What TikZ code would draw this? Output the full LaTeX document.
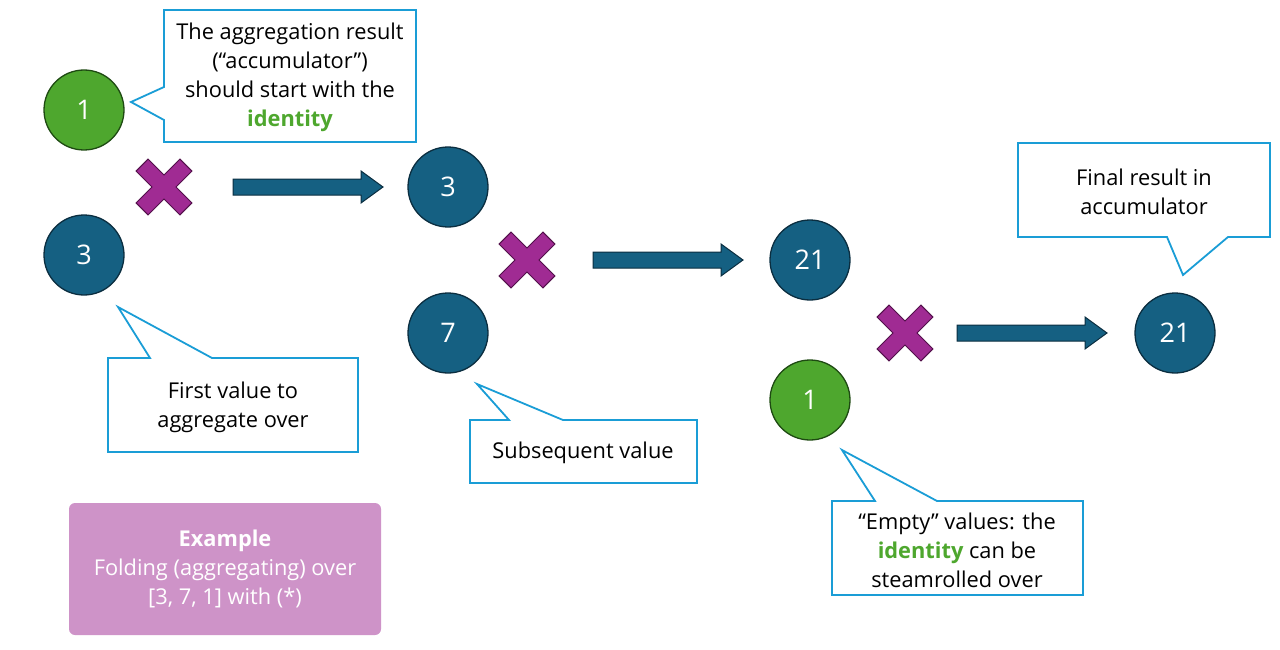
\documentclass[tikz,border=0pt]{standalone}
\usepackage{fontspec}
\setmainfont{Open Sans}
\definecolor{cblue}{HTML}{156082}
\definecolor{cbluedk}{HTML}{0B2E40}
\definecolor{cgreen}{HTML}{4EA72E}
\definecolor{cgreendk}{HTML}{1E4A12}
\definecolor{cpurple}{HTML}{A02B93}
\definecolor{cpurpledk}{HTML}{52104A}
\definecolor{ccall}{HTML}{1A9DD6}
\definecolor{cexample}{HTML}{CE93C8}
\begin{document}
\begin{tikzpicture}[x=1pt,y=-1pt,
  val/.style={circle,minimum size=80pt,inner sep=0pt,line width=1.3pt,text=white,font=\fontsize{27}{30}\selectfont},
  bluev/.style={val,fill=cblue,draw=cbluedk},
  greenv/.style={val,fill=cgreen,draw=cgreendk},
  calltext/.style={align=center,font=\fontsize{21.8}{29}\selectfont,text=black,inner sep=0pt},
  callout/.style={draw=ccall,line width=1.8pt,fill=white,line join=miter},
  xmark/.pic={\filldraw[fill=cpurple,draw=cpurpledk,line width=1pt,rotate=45]
     (8.5,31)--(8.5,8.5)--(31,8.5)--(31,-8.5)--(8.5,-8.5)--(8.5,-31)--(-8.5,-31)--(-8.5,-8.5)--(-31,-8.5)--(-31,8.5)--(-8.5,8.5)--(-8.5,31)--cycle;},
  blockarrow/.pic={\filldraw[fill=cblue,draw=cbluedk,line width=1pt]
     (0,-8)--(128,-8)--(128,-16)--(150,0)--(128,16)--(128,8)--(0,8)--cycle;}
]
\useasboundingbox (0,0) rectangle (1280,650);

% value circles
\node[greenv] (g1) at (84,110) {1};
\node[bluev]  (b3) at (84,255) {3};
\node[bluev]  (c3) at (448,187) {3};
\node[bluev]  (c7) at (448,333) {7};
\node[bluev]  (d21) at (810,260) {21};
\node[greenv] (d1) at (810,400) {1};
\node[bluev]  (e21) at (1175,333) {21};

% multiply marks
\pic at (164,187) {xmark};
\pic at (527,260) {xmark};
\pic at (905,333) {xmark};

% block arrows
\pic at (233,187) {blockarrow};
\pic at (593,260) {blockarrow};
\pic at (957,333) {blockarrow};

% callout 1
\draw[callout] (164,10)--(416,10)--(416,142)--(164,142)--(164,120)--(131,102)--(164,87)--cycle;
\node[calltext] (t1) at (290,77) {The aggregation result\\(“accumulator”)\\should start with the\\\textcolor{cgreen}{\bfseries identity}};

% callout 2
\draw[callout] (108,358)--(150,358)--(118,307)--(212,358)--(358,358)--(358,452)--(108,452)--cycle;
\node[calltext] (t2) at (233,407) {First value to\\aggregate over};

% callout 3
\draw[callout] (470,420)--(509,420)--(477,384)--(563,420)--(697,420)--(697,483)--(470,483)--cycle;
\node[calltext] (t3) at (583,453) {Subsequent value};

% callout 4
\draw[callout] (832,501)--(875,501)--(842,450)--(937,501)--(1083,501)--(1083,595)--(832,595)--cycle;
\node[calltext] (t4) at (957,550) {“Empty” values: the\\\textcolor{cgreen}{\bfseries identity} can be\\steamrolled over};

% callout 5
\draw[callout] (1018,143)--(1270,143)--(1270,237)--(1228,237)--(1183,275)--(1167,237)--(1018,237)--cycle;
\node[calltext] (t5) at (1144,192) {Final result in\\accumulator};

% example box
\node[fill=cexample,rounded corners=6pt,minimum width=312pt,minimum height=132pt,inner sep=0pt,
      text=white,align=center,font=\fontsize{21.8}{29}\selectfont] (ex) at (225,569)
  {\bfseries Example\\Folding (aggregating) over\\{[3, 7, 1]} with (*)};
\end{tikzpicture}
\end{document}
